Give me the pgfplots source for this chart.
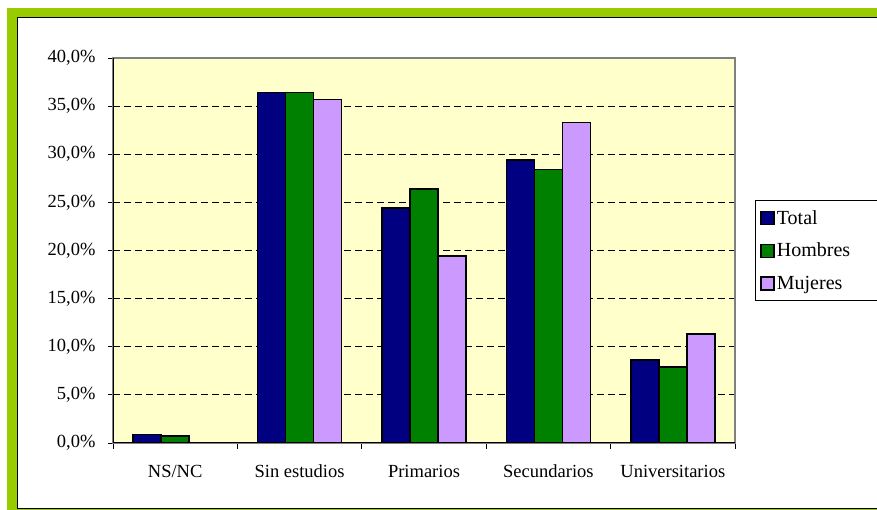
\documentclass[border=0pt]{standalone}
\usepackage{fontspec}
\setmainfont{Liberation Serif}
\usepackage{pgfplots}
\pgfplotsset{compat=1.18}
\definecolor{frameg}{RGB}{153,204,0}
\definecolor{plotbg}{RGB}{255,255,204}
\definecolor{cTotal}{RGB}{0,0,128}
\definecolor{cHom}{RGB}{0,128,0}
\definecolor{cMuj}{RGB}{204,153,255}
\pgfplotsset{
  sqlegend/.style={legend image code/.code={\draw[##1,draw=black,line width=1.6pt] (0pt,-6.5pt) rectangle (13pt,6.5pt);}},
}
\begin{document}
\begin{tikzpicture}[x=1pt,y=1pt]
\useasboundingbox (0,0) rectangle (877,510);
\clip (0,0) rectangle (877,510);
\fill[frameg] (7,502) rectangle (900,-10);
\filldraw[fill=white, draw=black, line width=1.2pt] (17.5,492.5) rectangle (900,1.5);
\begin{axis}[
  at={(113pt,67pt)}, anchor=south west,
  scale only axis, width=622pt, height=385pt,
  ymin=0, ymax=40, xmin=-0.5, xmax=4.5,
  axis background/.style={fill=plotbg},
  axis line style={draw=gray, line width=1.8pt},
  ytick={0,5,...,40},
  yticklabel={\pgfmathprintnumber[fixed,fixed zerofill,precision=1,use comma]{\tick}\%},
  /pgf/number format/assume math mode=true,
  xtick={0,1,2,3,4},
  xticklabels={NS/NC,Sin estudios,Primarios,Secundarios,Universitarios},
  minor xtick={-0.5,0.5,1.5,2.5,3.5,4.5},
  major x tick style={draw=none},
  minor tick length=6pt,
  major tick length=5pt,
  tick align=outside,
  tick style={black, line width=0.8pt},
  xtick pos=bottom, ytick pos=left,
  ymajorgrids,
  major grid style={black, line width=0.8pt, dash pattern=on 6.5pt off 4.5pt},
  tick label style={font=\fontsize{18.5}{20}\selectfont},
  yticklabel style={xshift=-9pt},
  xticklabel style={anchor=base, yshift=-30pt},
  legend style={at={(1.032,0.5)}, anchor=west, draw=black, line width=0.8pt, fill=white,
    font=\fontsize{20}{22}\selectfont, inner xsep=5pt, inner ysep=8pt, row sep=13.5pt,
    nodes={inner xsep=2pt}},
  legend cell align=left,
]
\addplot[ybar, bar width=28pt, bar shift=-28pt, fill=cTotal, draw=black, line width=1.6pt, sqlegend]
  coordinates {(0,0.9) (1,36.4) (2,24.4) (3,29.4) (4,8.6)};
\addplot[ybar, bar width=28pt, bar shift=0pt, fill=cHom, draw=black, line width=1.6pt, sqlegend]
  coordinates {(0,0.7) (1,36.4) (2,26.4) (3,28.4) (4,7.9)};
\addplot[ybar, bar width=28pt, bar shift=28pt, fill=cMuj, draw=black, line width=1.6pt, sqlegend]
  coordinates {(1,35.7) (2,19.4) (3,33.3) (4,11.3)};
\legend{\makebox[97pt][l]{Total},\makebox[97pt][l]{Hombres},\makebox[97pt][l]{Mujeres}}
\draw[black, line width=1pt] (rel axis cs:0,1) -- (rel axis cs:0,0) -- (rel axis cs:1,0);
\end{axis}
\end{tikzpicture}
\end{document}
